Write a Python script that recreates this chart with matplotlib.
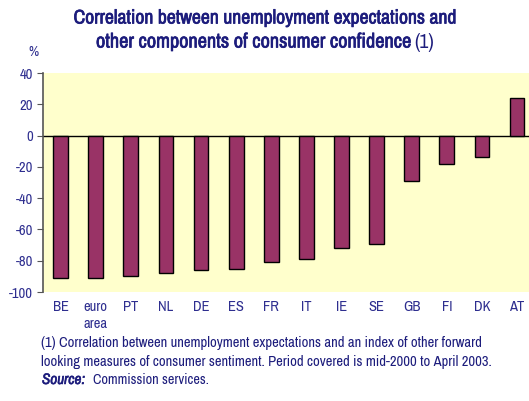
import matplotlib.pyplot as plt
from matplotlib import font_manager
import matplotlib.patheffects as pe

countries = ['BE', 'euro\narea', 'PT', 'NL', 'DE', 'ES', 'FR', 'IT', 'IE', 'SE', 'GB', 'FI', 'DK', 'AT']
correlation = [-91, -91, -90, -88, -86, -85, -81, -79, -72, -69, -29, -18, -14, 24]
yticks = [40, 20, 0, -20, -40, -60, -80, -100]

# narrow sans if one is installed, else Arial-metric Liberation Sans
names = sorted({f.name for f in font_manager.fontManager.ttflist})
narrow = [n for n in names if 'Narrow' in n or 'Condensed' in n]
main_font = narrow[0] if narrow else 'Liberation Sans'
plt.rcParams['font.family'] = [main_font, 'DejaVu Sans']

navy = '#1c1c7c'
tick_col = '#2e2e8f'
W, H = 529, 401
# the narrow face has no bold file, so thicken it with a thin stroke
fake_bold = [pe.withStroke(linewidth=0.5, foreground=navy)]

fig = plt.figure(figsize=(5.29, 4.01), dpi=100)
ax = fig.add_axes([43 / W, 1 - 292 / H, 1 - 43 / W, (292 - 73) / H])
ax.set_facecolor('#ffffcc')

x = list(range(len(countries)))
ax.bar(x, correlation, width=0.42, color='#993366', edgecolor='black', linewidth=1.0, zorder=3)
ax.axhline(0, color='black', linewidth=1.0, zorder=2)

ax.set_xlim(-0.5, 13.34)
ax.set_ylim(-100, 40)
ax.set_yticks(yticks)
ax.set_yticklabels([str(v) for v in yticks])
ax.set_xticks(x)
ax.set_xticklabels(countries, va='top', linespacing=1.25)
ax.tick_params(axis='x', length=0, pad=6, labelsize=10.5, labelcolor=tick_col)
ax.tick_params(axis='y', length=4, direction='out', width=0.8, pad=3, labelsize=10.5,
               labelcolor=tick_col, color='#555555')
for s in ['top', 'right', 'bottom']:
    ax.spines[s].set_visible(False)
ax.spines['left'].set_color('#555555')
ax.spines['left'].set_linewidth(1.2)


def fit_text(x0, y, s, width, ha='left', **kw):
    # size the text so it spans the same pixel width as in the reference
    t = fig.text(x0 / W, 1 - y / H, s, ha=ha, va='center', fontsize=10, **kw)
    fig.canvas.draw()
    w = t.get_window_extent().width
    t.set_fontsize(10 * width / w)
    return t


t1 = fit_text(264, 18, 'Correlation between unemployment expectations and', 385,
              ha='center', color=navy, path_effects=fake_bold)
t2 = fit_text(96, 42, 'other components of consumer confidence', 316,
              color=navy, path_effects=fake_bold)
fig.canvas.draw()
r = t2.get_window_extent()
fig.text((r.x1 + 4) / W, 1 - 42 / H, '(1)', ha='left', va='center',
         fontsize=t1.get_fontsize(), color=navy)

fig.text(33 / W, 1 - 52 / H, '%', ha='center', va='center', fontsize=10, color=tick_col)

fit_text(41, 343, '(1) Correlation between unemployment expectations and an index of other forward',
         440, color=navy)
fit_text(41, 362, 'looking measures of consumer sentiment. Period covered is mid-2000 to April 2003.',
         448, color=navy)
fit_text(42, 380, 'Source:', 43, color=navy, fontstyle='italic',
         path_effects=[pe.withStroke(linewidth=0.4, foreground=navy)])
fit_text(93, 380, 'Commission services.', 116, color=navy)

fig.savefig('out.png', dpi=100)
